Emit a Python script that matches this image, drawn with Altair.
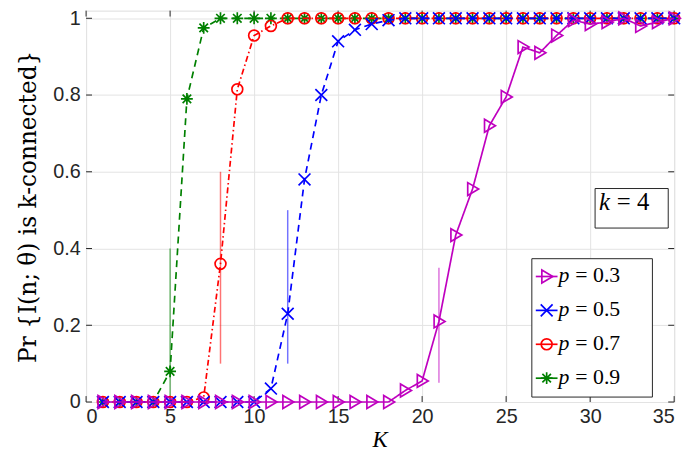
import altair as alt
import pandas as pd

# ---------------- data ----------------
K = list(range(1, 36))
p03 = [0] * 18 + [0.03, 0.055, 0.21, 0.435, 0.555, 0.72, 0.795, 0.925, 0.91,
                  0.955, 0.995, 0.985, 0.99, 1.0, 0.98, 0.99, 1.0]
p05 = [0] * 10 + [0.035, 0.23, 0.58, 0.80, 0.94, 0.97, 0.985, 0.995] + [1.0] * 17
p07 = [0] * 6 + [0.012, 0.36, 0.815, 0.955, 0.98] + [1.0] * 24
p09 = [0] * 4 + [0.08, 0.79, 0.975] + [1.0] * 28

labels = ["0.3", "0.5", "0.7", "0.9"]
bar_K = [21, 12, 8, 5]
bar_lo = [0.05, 0.10, 0.10, 0.0]
bar_hi = [0.35, 0.50, 0.60, 0.40]

x_ticks = [0, 5, 10, 15, 20, 25, 30, 35]
y_ticks = [0, 0.2, 0.4, 0.6, 0.8, 1]

# ---------------- styles ----------------
W, H = 595, 396
colors = {"0.3": "#bf00bf", "0.5": "#0000ff", "0.7": "#ff0000", "0.9": "#008000"}
dashes = {"0.3": [1, 0], "0.5": [7, 5], "0.7": [6, 3, 1.5, 3], "0.9": [7, 5]}
shapes = {
    "0.3": "M-0.75,-1L0.95,0L-0.75,1Z",
    "0.5": "M-1,-1L1,1M-1,1L1,-1",
    "0.7": "circle",
    "0.9": "M-1,0L1,0M0,-1L0,1M-0.72,-0.72L0.72,0.72M-0.72,0.72L0.72,-0.72",
}
sizes = {"0.3": 169, "0.5": 144, "0.7": 121, "0.9": 144}
values = {"0.3": p03, "0.5": p05, "0.7": p07, "0.9": p09}

xs = alt.Scale(domain=[0, 35], nice=False, zero=False)
ys = alt.Scale(domain=[0, 1.02], nice=False, zero=False)

SANS = "Liberation Sans"
SERIF = "DejaVu Serif"
SERIF2 = "Liberation Serif"

# axes + grid (base layer)
frame_df = pd.DataFrame({"K": [0], "v": [0]})
base = alt.Chart(frame_df).mark_point(opacity=0).encode(
    x=alt.X("K:Q", scale=xs,
            axis=alt.Axis(values=x_ticks, title=None, format="~g",
                          labelFont=SANS, labelFontSize=20, labelColor="#262626",
                          labelPadding=5, ticks=False, domain=False,
                          grid=True, gridColor="#e3e3e3", gridWidth=1)),
    y=alt.Y("v:Q", scale=ys,
            axis=alt.Axis(values=y_ticks, title="Pr {I(n; θ) is k-connected}",
                          titleFont=SERIF, titleFontWeight="normal", titleFontSize=23.5,
                          titlePadding=12, titleColor="#000000", format="~g",
                          labelFont=SANS, labelFontSize=20, labelColor="#262626",
                          labelPadding=6, ticks=False, domain=False,
                          grid=True, gridColor="#e3e3e3", gridWidth=1)),
)

layers = [base]

# x-axis title "K"
layers.append(alt.Chart(pd.DataFrame({"t": ["K"]})).mark_text(
    font=SERIF2, fontStyle="italic", fontSize=23, align="center", baseline="alphabetic",
    color="#000000").encode(x=alt.value(W / 2), y=alt.value(H + 46), text="t:N"))

# inward ticks
xt = pd.DataFrame({"K": x_ticks})
yt = pd.DataFrame({"v": y_ticks})
tick_col = "#262626"
layers.append(alt.Chart(xt).mark_rule(color=tick_col, strokeWidth=1).encode(
    x=alt.X("K:Q", scale=xs), y=alt.value(H), y2=alt.value(H - 6)))
layers.append(alt.Chart(xt).mark_rule(color=tick_col, strokeWidth=1).encode(
    x=alt.X("K:Q", scale=xs), y=alt.value(0), y2=alt.value(6)))
layers.append(alt.Chart(yt).mark_rule(color=tick_col, strokeWidth=1).encode(
    y=alt.Y("v:Q", scale=ys), x=alt.value(0), x2=alt.value(6)))
layers.append(alt.Chart(yt).mark_rule(color=tick_col, strokeWidth=1).encode(
    y=alt.Y("v:Q", scale=ys), x=alt.value(W), x2=alt.value(W - 6)))

# thin vertical bars
for lab, bk, lo, hi in zip(labels, bar_K, bar_lo, bar_hi):
    bdf = pd.DataFrame({"K": [bk], "lo": [lo], "hi": [hi]})
    layers.append(alt.Chart(bdf).mark_rule(color=colors[lab], strokeWidth=1.5, opacity=0.55).encode(
        x=alt.X("K:Q", scale=xs), y=alt.Y("lo:Q", scale=ys), y2="hi:Q"))

# series
for lab in ["0.9", "0.7", "0.5", "0.3"]:
    df = pd.DataFrame({"K": K, "v": values[lab]})
    layers.append(alt.Chart(df).mark_line(color=colors[lab], strokeWidth=1.7,
                                          strokeDash=dashes[lab]).encode(
        x=alt.X("K:Q", scale=xs), y=alt.Y("v:Q", scale=ys)))
    layers.append(alt.Chart(df).mark_point(shape=shapes[lab], size=sizes[lab], filled=False,
                                           color=colors[lab], strokeWidth=1.7, opacity=1).encode(
        x=alt.X("K:Q", scale=xs), y=alt.Y("v:Q", scale=ys)))

# legend box
one = pd.DataFrame({"a": [0]})
layers.append(alt.Chart(one).mark_rect(fill="white", stroke="#262626", strokeWidth=1).encode(
    x=alt.value(451), x2=alt.value(573), y=alt.value(251), y2=alt.value(391)))
for i, lab in enumerate(labels):
    cy = 269 + i * 34.3
    layers.append(alt.Chart(one).mark_rule(color=colors[lab], strokeWidth=1.7).encode(
        x=alt.value(455), x2=alt.value(477), y=alt.value(cy)))
    layers.append(alt.Chart(one).mark_point(shape=shapes[lab], size=sizes[lab], filled=False,
                                            color=colors[lab], strokeWidth=1.7, opacity=1).encode(
        x=alt.value(466), y=alt.value(cy)))
    layers.append(alt.Chart(pd.DataFrame({"t": ["p"]})).mark_text(
        font=SERIF2, fontStyle="italic", fontSize=22, align="left", baseline="alphabetic",
        color="#000000").encode(x=alt.value(478), y=alt.value(cy + 6), text="t:N"))
    layers.append(alt.Chart(pd.DataFrame({"t": ["= " + lab]})).mark_text(
        font=SERIF2, fontSize=22, align="left", baseline="alphabetic",
        color="#000000").encode(x=alt.value(495), y=alt.value(cy + 6), text="t:N"))

# k = 4 box
layers.append(alt.Chart(one).mark_rect(fill="white", stroke="#262626", strokeWidth=1).encode(
    x=alt.value(515), x2=alt.value(589), y=alt.value(180), y2=alt.value(220)))
layers.append(alt.Chart(pd.DataFrame({"t": ["k"]})).mark_text(
    font=SERIF2, fontStyle="italic", fontSize=25, align="left", baseline="alphabetic",
    color="#000000").encode(x=alt.value(519), y=alt.value(202), text="t:N"))
layers.append(alt.Chart(pd.DataFrame({"t": ["= 4"]})).mark_text(
    font=SERIF2, fontSize=25, align="left", baseline="alphabetic",
    color="#000000").encode(x=alt.value(537), y=alt.value(202), text="t:N"))

chart = alt.layer(*layers).properties(
    width=W, height=H,
    padding={"left": 79, "top": 0, "right": 14, "bottom": 54},
    autosize=alt.AutoSizeParams(type="none"),
).configure_view(stroke="#262626", strokeWidth=1).configure(background="white")

chart.save("out.html", embed_options={"renderer": "svg", "actions": False})
